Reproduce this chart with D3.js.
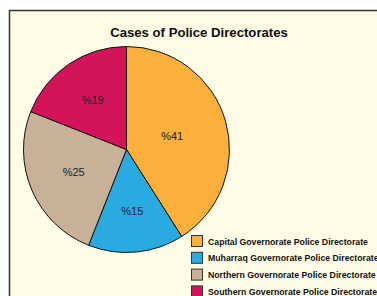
<!DOCTYPE html>
<html>
<head>
  <meta charset="utf-8">
  <script src="https://cdnjs.cloudflare.com/ajax/libs/d3/7.8.5/d3.min.js"></script>
  <style type="text/css">
    body {
      margin: 0;
      background: #fff;
      font-family: Arial, "Liberation Sans", Helvetica, sans-serif;
    }
    svg { display: block; }
  </style>
</head>
<body>
  <svg id="chart" width="377" height="296"></svg>
  <script type="text/javascript">

  const title = 'Cases of Police Directorates';
  const directorates = [
    'Capital Governorate Police Directorate',
    'Muharraq Governorate Police Directorate',
    'Northern Governorate Police Directorate',
    'Southern Governorate Police Directorate'
  ];
  const shares = [41, 15, 25, 19];
  const colors = ['#fbb03b', '#29abe2', '#c7b299', '#d4145a'];

  const svg = d3.select('#chart');

  // frame
  svg.append('rect')
    .attr('x', 9.5).attr('y', 10.5)
    .attr('width', 400).attr('height', 320)
    .attr('fill', '#fefbe6')
    .attr('stroke', '#333')
    .attr('stroke-width', 1.5);

  const titleText = svg.append('text')
    .attr('x', 199).attr('y', 37)
    .attr('text-anchor', 'middle')
    .attr('font-size', 13.5)
    .attr('font-weight', 'bold')
    .attr('fill', '#111')
    .text(title);
  // reference title is about 178px wide
  const tw = titleText.node().getComputedTextLength();
  titleText.attr('font-size', 13.5 * 178 / tw);

  const data = directorates.map((name, i) => ({ name, value: shares[i], color: colors[i] }));

  const radius = 103;
  const g = svg.append('g').attr('transform', 'translate(126.5,149.5)');

  const pie = d3.pie().sort(null).value((d) => d.value);
  const arc = d3.arc().innerRadius(0).outerRadius(radius);
  const arcs = pie(data);

  g.selectAll('path').data(arcs).enter().append('path')
    .attr('d', arc)
    .attr('fill', (d) => d.data.color)
    .attr('stroke', '#111')
    .attr('stroke-width', 1);

  // labels near each sector's area centroid
  g.selectAll('text.lbl').data(arcs).enter().append('text')
    .attr('class', 'lbl')
    .attr('transform', (d) => {
      const half = (d.endAngle - d.startAngle) / 2;
      const r = 0.93 * 2 * radius * Math.sin(half) / (3 * half);
      const a = (d.startAngle + d.endAngle) / 2;
      return `translate(${r * Math.sin(a)},${-r * Math.cos(a)})`;
    })
    .attr('text-anchor', 'middle')
    .attr('dy', '0.35em')
    .attr('font-size', 11)
    .attr('fill', '#222')
    .text((d) => '%' + d.data.value);

  // legend
  const legend = svg.append('g').attr('transform', 'translate(191,235)');
  const row = legend.selectAll('g').data(data).enter().append('g')
    .attr('transform', (d, i) => `translate(0,${i * 16.8})`);
  row.append('rect')
    .attr('x', 0.5).attr('y', 0.5)
    .attr('width', 11).attr('height', 11)
    .attr('fill', (d) => d.color)
    .attr('stroke', '#333')
    .attr('stroke-width', 1);
  const labels = row.append('text')
    .attr('x', 17).attr('y', 9.5)
    .attr('font-size', 9.5)
    .attr('font-weight', 'bold')
    .attr('fill', '#111')
    .text((d) => d.name);
  // first legend entry spans about 160px in the reference
  const lw = labels.node().getComputedTextLength();
  labels.attr('font-size', 9.5 * 160 / lw);
  </script>
</body>
</html>
